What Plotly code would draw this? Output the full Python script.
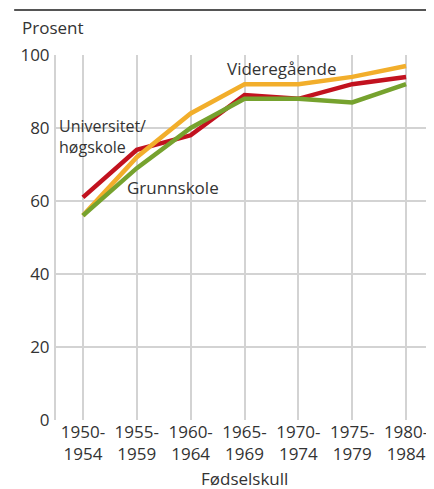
import plotly.graph_objects as go

categories = ["1950-<br>1954", "1955-<br>1959", "1960-<br>1964", "1965-<br>1969",
              "1970-<br>1974", "1975-<br>1979", "1980-<br>1984"]
universitet = [61, 74, 78, 89, 88, 92, 94]
videregaende = [56, 72, 84, 92, 92, 94, 97]
grunnskole = [56, 69, 80, 88, 88, 87, 92]
y_ticks = [0, 20, 40, 60, 80, 100]

xi = list(range(len(categories)))
FONT = "Open Sans"
TXT = "#333333"
GRID = "#d3d3d3"

fig = go.Figure()
fig.add_trace(go.Scatter(x=xi, y=universitet, mode="lines", line=dict(color="#c2121f", width=4.5), name="Universitet/høgskole"))
fig.add_trace(go.Scatter(x=xi, y=videregaende, mode="lines", line=dict(color="#f2ae2b", width=4.5), name="Videregående"))
fig.add_trace(go.Scatter(x=xi, y=grunnskole, mode="lines", line=dict(color="#76a22e", width=4.5), name="Grunnskole"))

# page body has an 8px margin, so the figure is sized/offset to land where the reference is
fig.update_layout(
    width=426, height=481,
    margin=dict(l=48, r=1, t=47, b=69),
    paper_bgcolor="white", plot_bgcolor="white",
    showlegend=False,
    font=dict(family=FONT, size=17, color=TXT),
    xaxis=dict(
        range=[-0.5, 6.5], tickmode="array", tickvals=xi, ticktext=categories,
        showgrid=True, gridcolor=GRID, gridwidth=2, zeroline=False,
        ticks="", automargin=False, fixedrange=True,
    ),
    yaxis=dict(
        range=[0, 100], tickmode="array", tickvals=y_ticks,
        showgrid=True, gridcolor=GRID, gridwidth=2, zeroline=False,
        showline=True, mirror=True, linecolor=GRID, linewidth=2,
        ticks="", ticklabelstandoff=1, automargin=False,
    ),
    annotations=[
        dict(text="Prosent", xref="paper", yref="paper", x=-0.0955, y=1.074,
             xanchor="left", yanchor="middle", showarrow=False, font=dict(size=17, color=TXT)),
        dict(text="Fødselskull", xref="paper", yref="paper", x=0.5, y=-0.161,
             xanchor="center", yanchor="middle", showarrow=False, font=dict(size=17, color=TXT)),
        dict(text="Videregående", x=3.69, y=96.4, xanchor="center", yanchor="middle",
             showarrow=False, font=dict(size=17, color=TXT)),
        dict(text="Universitet/<br>høgskole", x=-0.48, y=77.8, xanchor="left", yanchor="middle",
             align="left", showarrow=False, font=dict(size=16, color=TXT)),
        dict(text="Grunnskole", x=0.78, y=63.6, xanchor="left", yanchor="middle",
             showarrow=False, font=dict(size=17, color=TXT)),
    ],
    shapes=[
        dict(type="line", xref="paper", yref="paper", x0=-0.111, x1=1.01, y0=1.123, y1=1.123,
             line=dict(color="#555555", width=2)),
    ],
)

fig.write_html("out.html")
